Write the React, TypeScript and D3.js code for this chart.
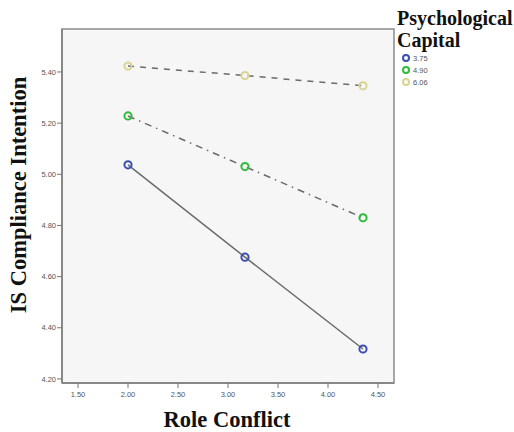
import React from "react";
import * as d3 from "d3";

const xValues = [2.0, 3.17, 4.35];
const seriesLabels = ["3.75", "4.90", "6.06"];
const seriesLow = [5.037, 4.676, 4.317];
const seriesMid = [5.228, 5.03, 4.83];
const seriesHigh = [5.423, 5.386, 5.346];
const xTicks = [1.5, 2.0, 2.5, 3.0, 3.5, 4.0, 4.5];
const yTicks = [4.2, 4.4, 4.6, 4.8, 5.0, 5.2, 5.4];

const colors = ["#3a4fb4", "#2dbd3a", "#d9d394"];
const dashes = ["", "7,5,1.5,5", "6,6"];

export default function App() {
  const W = 514, H = 432;
  const left = 62, right = 394, top = 29, bottom = 383;
  const x = d3.scaleLinear().domain([1.34, 4.66]).range([left, right]);
  const y = d3.scaleLinear().domain([4.184, 5.568]).range([bottom, top]);
  const line = d3.line<number>().x((_, i) => x(xValues[i])).y((d) => y(d));
  const series = [seriesLow, seriesMid, seriesHigh];
  const tickFont = "Arial, 'Liberation Sans', sans-serif";
  const titleFont = "'Liberation Serif', 'Times New Roman', serif";
  return (
    <svg width={W} height={H} style={{ position: "absolute", left: 0, top: 0 }}>
      <rect x={0} y={0} width={W} height={H} fill="#ffffff" />
      <rect x={left} y={top} width={right - left} height={bottom - top} fill="#f6f6f6" stroke="#8a8a8a" strokeWidth={1.5} />
      <line x1={left} x2={left} y1={top} y2={bottom} stroke="#888" strokeWidth={2} />
      <line x1={left} x2={right} y1={bottom} y2={bottom} stroke="#888" strokeWidth={2} />
      {yTicks.map((t) => (
        <g key={"y" + t}>
          <line x1={left - 5} x2={left} y1={y(t)} y2={y(t)} stroke="#777" strokeWidth={1} />
          <text x={left - 6} y={y(t)} dy="0.35em" textAnchor="end" fontSize={7.5} fill="#555" fontFamily={tickFont}>
            {t.toFixed(2)}
          </text>
        </g>
      ))}
      {xTicks.map((t) => (
        <g key={"x" + t}>
          <line x1={x(t)} x2={x(t)} y1={bottom} y2={bottom + 5} stroke="#777" strokeWidth={1} />
          <text x={x(t)} y={bottom + 14} textAnchor="middle" fontSize={7.5} fill="#555" fontFamily={tickFont}>
            {t.toFixed(2)}
          </text>
        </g>
      ))}
      {series.map((s, i) => (
        <path key={"l" + i} d={line(s) || ""} fill="none" stroke="#6a6a6a" strokeWidth={1.5} strokeDasharray={dashes[i]} />
      ))}
      {series.map((s, i) =>
        s.map((v, j) => (
          <circle key={"c" + i + j} cx={x(xValues[j])} cy={y(v)} r={3.6} fill="none" stroke={colors[i]} strokeWidth={2} />
        ))
      )}
      <text x={227} y={427} textAnchor="middle" fontSize={22.5} fontWeight="bold" fontFamily={titleFont} fill="#111">
        Role Conflict
      </text>
      <text transform={`translate(26,195) rotate(-90)`} textAnchor="middle" fontSize={22.5} fontWeight="bold" fontFamily={titleFont} fill="#111">
        IS Compliance Intention
      </text>
      <text x={397} y={25} fontSize={20} fontWeight="bold" fontFamily={titleFont} fill="#111">Psychological</text>
      <text x={397} y={47} fontSize={20} fontWeight="bold" fontFamily={titleFont} fill="#111">Capital</text>
      {seriesLabels.map((lab, i) => (
        <g key={"lg" + i}>
          <circle cx={406} cy={58 + i * 12} r={3} fill="none" stroke={colors[i]} strokeWidth={2} />
          <text x={413} y={58 + i * 12} dy="0.35em" fontSize={7.5} fill="#555" fontFamily={tickFont}>{lab}</text>
        </g>
      ))}
    </svg>
  );
}
